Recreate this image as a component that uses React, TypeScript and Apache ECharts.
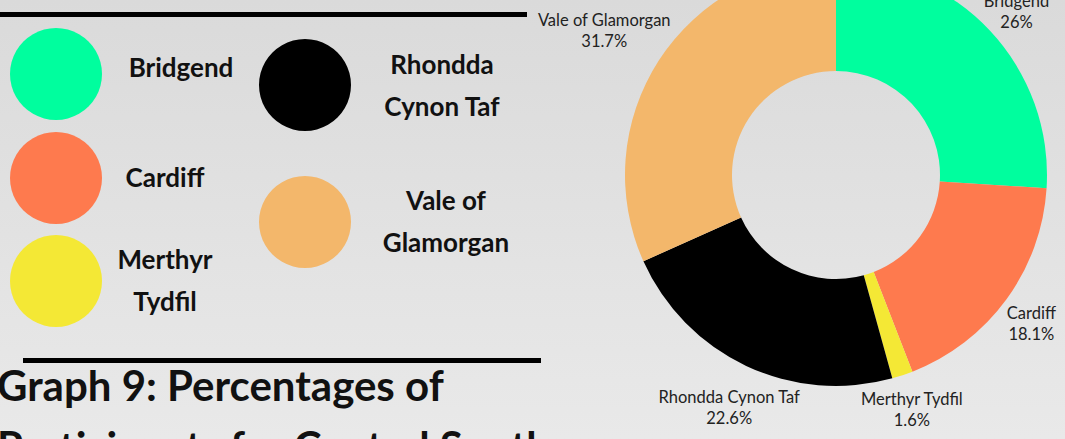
import React, { useEffect, useRef } from "react";
import * as echarts from "echarts";

// ---- data ----
const categories = ["Bridgend", "Cardiff", "Merthyr Tydfil", "Rhondda Cynon Taf", "Vale of Glamorgan"];
const values = [26, 18.1, 1.6, 22.6, 31.7];
const colors = ["#00fe9e", "#fe7a4e", "#f4e835", "#000000", "#f3b76b"];
const legendLabels = ["Bridgend", "Cardiff", "Merthyr\nTydfil", "Rhondda\nCynon Taf", "Vale of\nGlamorgan"];
const titleLines = ["Graph 9: Percentages of", "Participants for Central South"];

// ---- layout constants ----
const W = 1065;
const H = 439;
const CX = 836;
const CY = 175;
const R_IN = 104;
const R_OUT = 211;
const LABEL_R = 211;
const LABEL_CY = CY + 6;
const legendLayout = [
  { cx: 56, cy: 74, tx: 181, ty: 67 },
  { cx: 56, cy: 178, tx: 165, ty: 177 },
  { cx: 56, cy: 281, tx: 165, ty: 280 },
  { cx: 305, cy: 85, tx: 442, ty: 85 },
  { cx: 305, cy: 222, tx: 446, ty: 221 },
];

export default function App() {
  const ref = useRef<HTMLDivElement>(null);
  useEffect(() => {
    if (!ref.current) return;
    const chart = echarts.init(ref.current, undefined, { renderer: "svg", width: W, height: H });

    const legendGraphics: any[] = [];
    categories.forEach((_, i) => {
      const L = legendLayout[i];
      legendGraphics.push({
        type: "circle",
        shape: { cx: L.cx, cy: L.cy, r: 46 },
        style: { fill: colors[i] },
        silent: true,
      });
      legendGraphics.push({
        type: "text",
        x: L.tx,
        y: L.ty,
        style: {
          text: legendLabels[i],
          font: "700 26px Lato",
          fill: "#111111",
          align: "center",
          verticalAlign: "middle",
          lineHeight: 42,
        },
        silent: true,
      });
    });

    const option: any = {
      animation: false,
      backgroundColor: {
        type: "linear",
        x: 0,
        y: 0,
        x2: 0,
        y2: 1,
        colorStops: [
          { offset: 0, color: "#dadada" },
          { offset: 1, color: "#e9e9e9" },
        ],
      },
      graphic: [
        { type: "rect", shape: { x: 0, y: 12, width: 527, height: 5 }, style: { fill: "#000" }, silent: true },
        { type: "rect", shape: { x: 23, y: 358, width: 518, height: 5 }, style: { fill: "#000" }, silent: true },
        ...legendGraphics,
        {
          type: "text",
          x: -3,
          y: 385,
          style: { text: titleLines[0], font: "700 42px Lato", fill: "#111111", align: "left", verticalAlign: "middle" },
          silent: true,
        },
        {
          type: "text",
          x: -3,
          y: 446,
          style: { text: titleLines[1], font: "700 42px Lato", fill: "#111111", align: "left", verticalAlign: "middle" },
          silent: true,
        },
      ],
      series: [
        {
          type: "pie",
          center: [CX, CY],
          radius: [R_IN, R_OUT],
          startAngle: 90,
          clockwise: true,
          avoidLabelOverlap: false,
          silent: true,
          data: categories.map((name, i) => ({ name, value: values[i], itemStyle: { color: colors[i] } })),
          label: {
            show: true,
            position: "inside",
            formatter: "{n|{b}}\n{n|{c}%}",
            rich: {
              n: { fontFamily: "Lato", fontSize: 16.5, lineHeight: 21, color: "#222222", align: "center" },
            },
          },
          labelLine: { show: false },
          labelLayout: (p: any) => {
            const r = p.labelRect;
            const mx = r.x + r.width / 2 - CX;
            const my = r.y + r.height / 2 - CY;
            const len = Math.sqrt(mx * mx + my * my) || 1;
            const dx = mx / len;
            const dy = my / len;
            const hx = (r.width / 2) * Math.sign(dx);
            const hy = (r.height / 2) * Math.sign(dy);
            const dh = dx * hx + dy * hy;
            const t = dh + Math.sqrt(Math.max(0, dh * dh - (hx * hx + hy * hy) + LABEL_R * LABEL_R));
            return { x: CX + t * dx, y: LABEL_CY + t * dy, align: "center", verticalAlign: "middle" };
          },
        },
      ],
    };
    chart.setOption(option);
    return () => chart.dispose();
  }, []);
  return (
    <div
      ref={ref}
      style={{ position: "fixed", left: 0, top: 0, width: W, height: H, overflow: "hidden" }}
    />
  );
}
